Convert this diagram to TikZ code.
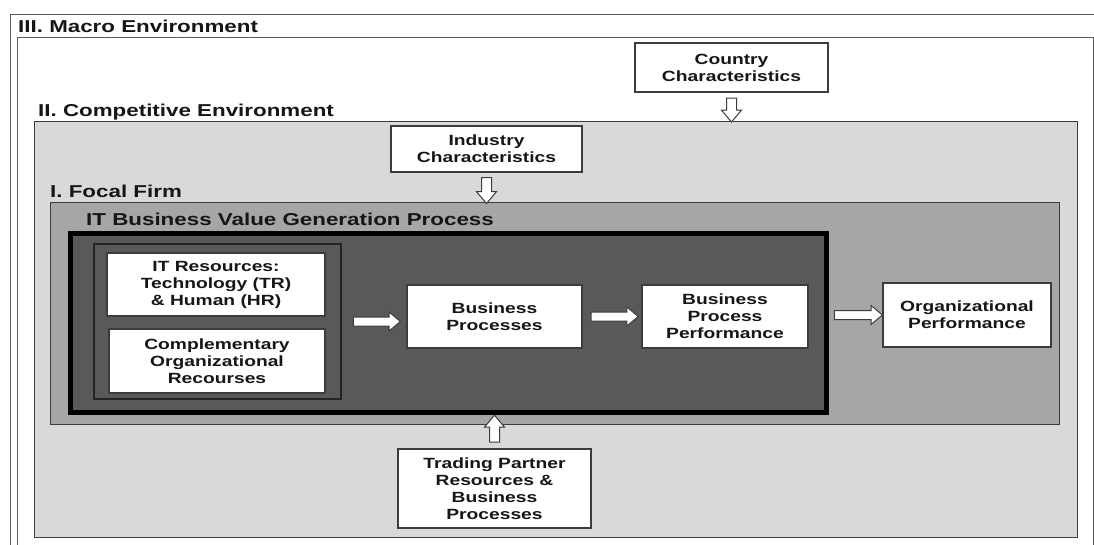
\documentclass[tikz,border=0pt]{standalone}
\usepackage{fontspec}
\setmainfont[FakeStretch=1.3]{Liberation Sans}
\usepackage{tikz}
\usetikzlibrary{positioning, calc, shapes.arrows}

\definecolor{framegray}{HTML}{5A5A5A}
\definecolor{edgegray}{HTML}{3C3C3C}
\definecolor{compgray}{HTML}{D9D9D9}
\definecolor{firmgray}{HTML}{A6A6A6}
\definecolor{procgray}{HTML}{595959}
\definecolor{inkgray}{HTML}{161616}

\newcommand{\boxfont}{\bfseries\fontsize{14.8}{17}\selectfont}
\newcommand{\layerfont}{\bfseries\fontsize{17.2}{20}\selectfont}

\tikzset{
    box/.style={draw=edgegray, line width=1.2pt, fill=white, align=center,
        font=\boxfont, text=inkgray, inner sep=2pt},
    layer/.style={anchor=base west, inner sep=0pt, font=\layerfont, text=inkgray},
    area/.style={draw=edgegray, line width=1pt, inner sep=0pt},
    fatarrow/.style={single arrow, draw=edgegray, fill=white, line width=1pt,
        single arrow head extend=5pt, single arrow tip angle=80,
        inner xsep=0pt, inner ysep=4pt},
}

\begin{document}
\begin{tikzpicture}[x=1pt, y=-1pt]
    \useasboundingbox (0,0) rectangle (1094,545);
    \clip (0,0) rectangle (1094,545);
    % Macro environment
    \draw [framegray, line width=1pt] (10,560) -- (10,15) -- (1110,15);
    \draw [framegray, line width=1pt, fill=white] (17,38) rectangle (1093,560);
    \node [layer] at (18,32.5) {III. Macro Environment};
    % Competitive environment
    \node [area, fill=compgray, minimum width=1043pt, minimum height=415pt] (comp) at (555.5,329.5) {};
    \node [layer] at (38,116.5) {II. Competitive Environment};
    % Focal firm
    \node [area, fill=firmgray, minimum width=1009pt, minimum height=221pt] (firm) at (554.5,313.5) {};
    \node [layer] at (50,198) {I. Focal Firm};
    \node [layer] at (86,225.5) {IT Business Value Generation Process};
    % Value generation process
    \node [draw=black, line width=5pt, fill=procgray, inner sep=0pt,
        minimum width=756pt, minimum height=179pt] (process) at (448.5,323) {};
    \node [draw=edgegray!60!black, line width=2pt, fill=procgray, inner sep=0pt,
        minimum width=247pt, minimum height=154pt] (resgroup) at (217.5,321.5) {};

    % Boxes
    \node [box, minimum width=193pt, minimum height=49pt] (country) at (731.5,67.5) {Country\\Characteristics};
    \node [box, minimum width=191pt, minimum height=46pt] (industry) at (486.5,149) {Industry\\Characteristics};
    \node [box, minimum width=218pt, minimum height=63pt] (itres) at (216,284.5) {IT Resources:\\Technology (TR)\\\& Human (HR)};
    \node [box, minimum width=216pt, minimum height=64pt] (compres) at (217,361) {Complementary\\Organizational\\Recourses};
    \node [box, minimum width=175pt, minimum height=63pt] (bizproc) at (494.5,316.5) {Business\\Processes};
    \node [box, minimum width=166pt, minimum height=63pt] (bpperf) at (725,316.5) {Business\\Process\\Performance};
    \node [box, minimum width=168pt, minimum height=64pt] (orgperf) at (967,315) {Organizational\\Performance};
    \node [box, minimum width=193pt, minimum height=79pt] (trading) at (494.5,488.5) {Trading Partner\\Resources \&\\Business\\Processes};

    % Block arrows
    \node [fatarrow, minimum height=47pt] (a1) at ($(resgroup.east)!.5!(bizproc.west |- resgroup.east)$) {};
    \node [fatarrow, minimum height=47pt] (a2) at ($(bizproc.east)!.5!(bpperf.west)$) {};
    \node [fatarrow, minimum height=48pt] (a3) at ($(orgperf.west -| process.east)!.5!(orgperf.west)$) {};
    \node [fatarrow, minimum height=24pt, inner ysep=4.5pt, rotate=-90] (a4) at ($(country.south)!.5!(country.south |- comp.north)$) {};
    \node [fatarrow, minimum height=26pt, inner ysep=4.5pt, rotate=-90] (a5) at ($(industry.south)!.5!(industry.south |- firm.north)$) {};
    \node [fatarrow, minimum height=27pt, inner ysep=4.5pt, rotate=90] (a6) at ($(trading.north)!.5!(trading.north |- process.south)$) {};
\end{tikzpicture}
\end{document}
